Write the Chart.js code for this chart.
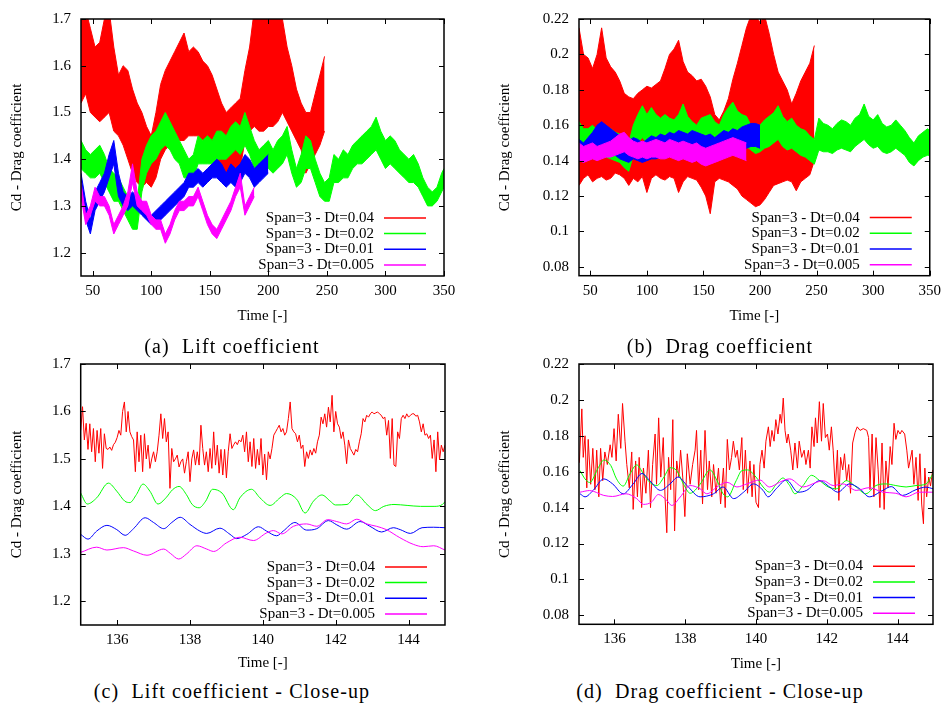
<!DOCTYPE html>
<html>
<head>
<meta charset="utf-8">
<script src="https://cdn.jsdelivr.net/npm/chart.js@4.4.1/dist/chart.umd.min.js"></script>
<style>
  body { margin: 0; background: #fff; width: 947px; height: 711px; position: relative; overflow: hidden; font-family: "Liberation Serif", "Times New Roman", serif; }
  canvas { position: absolute; }
  .cap { position: absolute; font-size: 20px; line-height: 20px; letter-spacing: 1.1px; white-space: nowrap; transform: translateX(-50%); color: #000; }
</style>
</head>
<body>
<canvas id="lift" width="470" height="330" style="left:0;top:0"></canvas>
<canvas id="drag" width="477" height="330" style="left:470px;top:0"></canvas>
<canvas id="liftZoom" width="470" height="330" style="left:0;top:345px"></canvas>
<canvas id="dragZoom" width="477" height="330" style="left:470px;top:345px"></canvas>
<div class="cap" style="left:232px;top:336px">(a)&nbsp; Lift coefficient</div>
<div class="cap" style="left:720px;top:336px">(b)&nbsp; Drag coefficient</div>
<div class="cap" style="left:232px;top:681px">(c)&nbsp; Lift coefficient - Close-up</div>
<div class="cap" style="left:720px;top:681px">(d)&nbsp; Drag coefficient - Close-up</div>
<script>
// labels
const legendLabels = ['Span=3 - Dt=0.04', 'Span=3 - Dt=0.02', 'Span=3 - Dt=0.01', 'Span=3 - Dt=0.005'];
const colors = ['#ff0000', '#00ff00', '#0000ff', '#ff00ff'];

// tick labels
const xTicksFull = [50, 100, 150, 200, 250, 300, 350];
const xTicksZoom = [136, 138, 140, 142, 144];
const yTicksLift = [1.2, 1.3, 1.4, 1.5, 1.6, 1.7];
const yTicksDrag = [0.08, 0.1, 0.12, 0.14, 0.16, 0.18, 0.2, 0.22];

// full run: time samples (envelopes of the fast oscillation)
const timeFull = [40, 44, 48, 52, 56, 60, 64, 68, 72, 76, 80, 84, 88, 92, 96, 100, 104, 108, 112, 116, 120, 124, 128, 132, 136, 140, 144, 148, 152, 156, 160, 164, 168, 172, 176, 180, 184, 188, 192, 196, 200, 204, 208, 212, 216, 220, 224, 228, 232, 236, 240, 244, 248, 252, 256, 260, 264, 268, 272, 276, 280, 284, 288, 292, 296, 300, 304, 308, 312, 316, 320, 324, 328, 332, 336, 340, 344, 348, 350];

// (a) lift, upper / lower envelopes
const liftRedHi = [1.72, 1.72, 1.68, 1.64, 1.65, 1.70, 1.72, 1.64, 1.58, 1.60, 1.59, 1.55, 1.52, 1.50, 1.47, 1.45, 1.50, 1.56, 1.59, 1.61, 1.63, 1.65, 1.67, 1.63, 1.64, 1.63, 1.61, 1.60, 1.58, 1.55, 1.52, 1.50, 1.51, 1.52, 1.53, 1.59, 1.64, 1.72, 1.72, 1.72, 1.72, 1.72, 1.72, 1.70, 1.64, 1.60, 1.55, 1.52, 1.50, 1.50, 1.54, 1.58, 1.62];
const liftRedLo = [1.52, 1.54, 1.50, 1.49, 1.48, 1.49, 1.50, 1.46, 1.45, 1.43, 1.40, 1.37, 1.35, 1.34, 1.35, 1.34, 1.36, 1.40, 1.42, 1.43, 1.44, 1.44, 1.44, 1.45, 1.45, 1.45, 1.44, 1.43, 1.42, 1.40, 1.38, 1.36, 1.35, 1.36, 1.38, 1.44, 1.46, 1.47, 1.46, 1.46, 1.47, 1.47, 1.48, 1.50, 1.48, 1.46, 1.44, 1.42, 1.37, 1.39, 1.41, 1.43, 1.46];
const liftGreenHi = [1.44, 1.42, 1.41, 1.42, 1.43, 1.41, 1.38, 1.37, 1.36, 1.34, 1.32, 1.30, 1.31, 1.40, 1.43, 1.45, 1.46, 1.48, 1.50, 1.48, 1.46, 1.44, 1.42, 1.40, 1.41, 1.45, 1.44, 1.45, 1.44, 1.46, 1.46, 1.45, 1.47, 1.48, 1.47, 1.50, 1.47, 1.44, 1.42, 1.43, 1.44, 1.42, 1.44, 1.45, 1.47, 1.42, 1.38, 1.41, 1.45, 1.44, 1.40, 1.37, 1.35, 1.36, 1.41, 1.40, 1.42, 1.41, 1.43, 1.44, 1.45, 1.46, 1.47, 1.49, 1.46, 1.44, 1.45, 1.44, 1.42, 1.41, 1.40, 1.41, 1.39, 1.36, 1.34, 1.33, 1.34, 1.37, 1.38];
const liftGreenLo = [1.38, 1.37, 1.36, 1.36, 1.37, 1.35, 1.33, 1.31, 1.31, 1.29, 1.27, 1.25, 1.25, 1.33, 1.37, 1.39, 1.40, 1.42, 1.43, 1.42, 1.40, 1.39, 1.36, 1.36, 1.36, 1.39, 1.39, 1.39, 1.39, 1.40, 1.40, 1.40, 1.41, 1.42, 1.41, 1.43, 1.41, 1.38, 1.37, 1.37, 1.38, 1.37, 1.38, 1.39, 1.41, 1.37, 1.34, 1.35, 1.38, 1.38, 1.35, 1.32, 1.31, 1.31, 1.35, 1.35, 1.36, 1.36, 1.38, 1.39, 1.39, 1.40, 1.41, 1.42, 1.40, 1.38, 1.39, 1.38, 1.37, 1.36, 1.35, 1.35, 1.34, 1.32, 1.30, 1.30, 1.31, 1.33, 1.34];
const liftBlueHi = [1.37, 1.31, 1.27, 1.33, 1.35, 1.37, 1.41, 1.44, 1.37, 1.33, 1.32, 1.33, 1.32, 1.31, 1.29, 1.28, 1.29, 1.30, 1.31, 1.32, 1.33, 1.34, 1.35, 1.37, 1.37, 1.38, 1.37, 1.38, 1.39, 1.40, 1.39, 1.37, 1.39, 1.38, 1.39, 1.41, 1.40, 1.38, 1.39, 1.40, 1.41];
const liftBlueLo = [1.33, 1.27, 1.24, 1.29, 1.31, 1.33, 1.36, 1.39, 1.32, 1.30, 1.29, 1.30, 1.29, 1.28, 1.27, 1.26, 1.27, 1.27, 1.28, 1.29, 1.30, 1.31, 1.32, 1.34, 1.34, 1.35, 1.34, 1.35, 1.36, 1.36, 1.35, 1.34, 1.35, 1.34, 1.35, 1.37, 1.36, 1.34, 1.35, 1.36, 1.37];
const liftPinkHi = [1.35, 1.28, 1.30, 1.34, 1.32, 1.32, 1.30, 1.26, 1.28, 1.30, 1.33, 1.39, 1.33, 1.31, 1.31, 1.28, 1.27, 1.27, 1.24, 1.26, 1.29, 1.31, 1.31, 1.32, 1.32, 1.34, 1.31, 1.28, 1.26, 1.25, 1.27, 1.29, 1.31, 1.34, 1.37, 1.30, 1.32, 1.34];
const liftPinkLo = [1.32, 1.26, 1.28, 1.31, 1.30, 1.30, 1.28, 1.24, 1.26, 1.28, 1.30, 1.35, 1.30, 1.29, 1.28, 1.26, 1.25, 1.25, 1.22, 1.24, 1.27, 1.29, 1.29, 1.30, 1.30, 1.32, 1.29, 1.26, 1.24, 1.23, 1.25, 1.27, 1.29, 1.32, 1.34, 1.28, 1.30, 1.32];

// (b) drag, upper / lower envelopes
const dragRedHi = [0.215, 0.200, 0.198, 0.192, 0.200, 0.215, 0.198, 0.193, 0.190, 0.185, 0.178, 0.176, 0.175, 0.178, 0.180, 0.182, 0.181, 0.183, 0.185, 0.192, 0.200, 0.203, 0.208, 0.196, 0.190, 0.188, 0.185, 0.186, 0.182, 0.176, 0.166, 0.163, 0.168, 0.175, 0.186, 0.195, 0.205, 0.215, 0.222, 0.222, 0.218, 0.222, 0.212, 0.200, 0.190, 0.185, 0.180, 0.172, 0.178, 0.185, 0.190, 0.195, 0.205];
const dragRedLo = [0.126, 0.130, 0.132, 0.128, 0.130, 0.131, 0.129, 0.130, 0.133, 0.132, 0.130, 0.126, 0.130, 0.128, 0.131, 0.122, 0.130, 0.132, 0.130, 0.129, 0.131, 0.130, 0.122, 0.128, 0.131, 0.130, 0.129, 0.125, 0.120, 0.110, 0.128, 0.130, 0.129, 0.128, 0.126, 0.124, 0.120, 0.118, 0.116, 0.114, 0.115, 0.118, 0.122, 0.126, 0.127, 0.128, 0.129, 0.128, 0.123, 0.128, 0.130, 0.132, 0.140];
const dragGreenHi = [0.162, 0.158, 0.158, 0.160, 0.157, 0.159, 0.157, 0.158, 0.156, 0.155, 0.152, 0.150, 0.160, 0.166, 0.171, 0.166, 0.170, 0.166, 0.164, 0.166, 0.164, 0.163, 0.166, 0.172, 0.165, 0.162, 0.160, 0.164, 0.165, 0.166, 0.162, 0.160, 0.166, 0.170, 0.173, 0.168, 0.166, 0.165, 0.160, 0.158, 0.160, 0.163, 0.165, 0.167, 0.171, 0.165, 0.162, 0.164, 0.160, 0.158, 0.157, 0.154, 0.152, 0.164, 0.161, 0.160, 0.158, 0.161, 0.163, 0.162, 0.160, 0.164, 0.166, 0.172, 0.165, 0.163, 0.166, 0.161, 0.159, 0.160, 0.163, 0.160, 0.157, 0.153, 0.150, 0.154, 0.156, 0.158, 0.157];
const dragGreenLo = [0.144, 0.142, 0.143, 0.144, 0.143, 0.144, 0.142, 0.141, 0.140, 0.139, 0.136, 0.134, 0.143, 0.150, 0.153, 0.150, 0.152, 0.149, 0.148, 0.150, 0.148, 0.147, 0.150, 0.152, 0.149, 0.147, 0.146, 0.148, 0.149, 0.150, 0.147, 0.146, 0.149, 0.152, 0.154, 0.151, 0.150, 0.148, 0.146, 0.144, 0.145, 0.147, 0.148, 0.150, 0.152, 0.148, 0.146, 0.147, 0.145, 0.143, 0.142, 0.140, 0.138, 0.146, 0.145, 0.145, 0.144, 0.146, 0.147, 0.146, 0.145, 0.148, 0.150, 0.152, 0.149, 0.147, 0.148, 0.145, 0.144, 0.145, 0.147, 0.145, 0.143, 0.139, 0.137, 0.140, 0.142, 0.143, 0.143];
const dragBlueHi = [0.152, 0.150, 0.153, 0.156, 0.160, 0.162, 0.160, 0.158, 0.156, 0.154, 0.152, 0.151, 0.153, 0.152, 0.150, 0.152, 0.154, 0.153, 0.155, 0.154, 0.156, 0.155, 0.157, 0.156, 0.155, 0.157, 0.156, 0.155, 0.154, 0.155, 0.153, 0.155, 0.157, 0.156, 0.158, 0.157, 0.159, 0.160, 0.161, 0.161, 0.160];
const dragBlueLo = [0.141, 0.139, 0.141, 0.143, 0.146, 0.147, 0.146, 0.144, 0.143, 0.141, 0.140, 0.139, 0.141, 0.140, 0.139, 0.140, 0.141, 0.141, 0.142, 0.142, 0.144, 0.143, 0.144, 0.143, 0.142, 0.144, 0.143, 0.141, 0.140, 0.141, 0.140, 0.142, 0.144, 0.144, 0.146, 0.145, 0.146, 0.147, 0.148, 0.148, 0.147];
const dragPinkHi = [0.150, 0.148, 0.149, 0.150, 0.148, 0.149, 0.150, 0.151, 0.153, 0.155, 0.156, 0.153, 0.151, 0.150, 0.151, 0.150, 0.151, 0.152, 0.151, 0.150, 0.152, 0.151, 0.150, 0.151, 0.150, 0.149, 0.150, 0.148, 0.147, 0.148, 0.149, 0.150, 0.151, 0.152, 0.153, 0.152, 0.151, 0.150];
const dragPinkLo = [0.140, 0.139, 0.140, 0.141, 0.140, 0.141, 0.142, 0.142, 0.143, 0.144, 0.145, 0.143, 0.142, 0.141, 0.142, 0.141, 0.142, 0.142, 0.141, 0.141, 0.142, 0.141, 0.140, 0.141, 0.140, 0.139, 0.140, 0.138, 0.137, 0.138, 0.139, 0.140, 0.141, 0.142, 0.143, 0.142, 0.141, 0.140];

// (c) lift close-up
const timeFine = [135, 135.05, 135.1, 135.15, 135.2, 135.25, 135.3, 135.35, 135.4, 135.45, 135.5, 135.55, 135.6, 135.65, 135.7, 135.75, 135.8, 135.85, 135.9, 135.95,
  136, 136.05, 136.1, 136.15, 136.2, 136.25, 136.3, 136.35, 136.4, 136.45, 136.5, 136.55, 136.6, 136.65, 136.7, 136.75, 136.8, 136.85, 136.9, 136.95,
  137, 137.05, 137.1, 137.15, 137.2, 137.25, 137.3, 137.35, 137.4, 137.45, 137.5, 137.55, 137.6, 137.65, 137.7, 137.75, 137.8, 137.85, 137.9, 137.95,
  138, 138.05, 138.1, 138.15, 138.2, 138.25, 138.3, 138.35, 138.4, 138.45, 138.5, 138.55, 138.6, 138.65, 138.7, 138.75, 138.8, 138.85, 138.9, 138.95,
  139, 139.05, 139.1, 139.15, 139.2, 139.25, 139.3, 139.35, 139.4, 139.45, 139.5, 139.55, 139.6, 139.65, 139.7, 139.75, 139.8, 139.85, 139.9, 139.95,
  140, 140.05, 140.1, 140.15, 140.2, 140.25, 140.3, 140.35, 140.4, 140.45, 140.5, 140.55, 140.6, 140.65, 140.7, 140.75, 140.8, 140.85, 140.9, 140.95,
  141, 141.05, 141.1, 141.15, 141.2, 141.25, 141.3, 141.35, 141.4, 141.45, 141.5, 141.55, 141.6, 141.65, 141.7, 141.75, 141.8, 141.85, 141.9, 141.95,
  142, 142.05, 142.1, 142.15, 142.2, 142.25, 142.3, 142.35, 142.4, 142.45, 142.5, 142.55, 142.6, 142.65, 142.7, 142.75, 142.8, 142.85, 142.9, 142.95,
  143, 143.05, 143.1, 143.15, 143.2, 143.25, 143.3, 143.35, 143.4, 143.45, 143.5, 143.55, 143.6, 143.65, 143.7, 143.75, 143.8, 143.85, 143.9, 143.95,
  144, 144.05, 144.1, 144.15, 144.2, 144.25, 144.3, 144.35, 144.4, 144.45, 144.5, 144.55, 144.6, 144.65, 144.7, 144.75, 144.8, 144.85, 144.9, 144.95, 145];
const zoomLiftRed = [1.56, 1.61, 1.54, 1.575, 1.52, 1.574, 1.515, 1.564, 1.494, 1.56, 1.512, 1.564, 1.48, 1.553, 1.522, 1.52, 1.525, 1.518, 1.53, 1.535,
  1.545, 1.56, 1.55, 1.60, 1.62, 1.557, 1.60, 1.557, 1.547, 1.54, 1.473, 1.557, 1.494, 1.55, 1.473, 1.553, 1.50, 1.529, 1.48, 1.50,
  1.515, 1.494, 1.515, 1.55, 1.595, 1.543, 1.585, 1.536, 1.557, 1.438, 1.522, 1.494, 1.50, 1.508, 1.483, 1.494, 1.50, 1.47, 1.494, 1.515,
  1.452, 1.50, 1.519, 1.487, 1.515, 1.487, 1.571, 1.522, 1.487, 1.515, 1.473, 1.522, 1.48, 1.557, 1.487, 1.529, 1.47, 1.52, 1.466, 1.52,
  1.46, 1.515, 1.553, 1.522, 1.53, 1.536, 1.53, 1.54, 1.536, 1.55, 1.515, 1.557, 1.494, 1.536, 1.484, 1.543, 1.48, 1.52, 1.487, 1.543,
  1.466, 1.51, 1.456, 1.515, 1.50, 1.522, 1.55, 1.557, 1.564, 1.571, 1.557, 1.564, 1.55, 1.557, 1.585, 1.62, 1.564, 1.557, 1.553, 1.536,
  1.55, 1.522, 1.529, 1.484, 1.515, 1.501, 1.519, 1.508, 1.522, 1.512, 1.536, 1.55, 1.588, 1.574, 1.595, 1.567, 1.609, 1.578, 1.634, 1.557,
  1.60, 1.574, 1.567, 1.543, 1.557, 1.529, 1.49, 1.54, 1.522, 1.515, 1.508, 1.52, 1.515, 1.536, 1.553, 1.585, 1.578, 1.592, 1.588, 1.595,
  1.599, 1.595, 1.597, 1.599, 1.595, 1.592, 1.585, 1.588, 1.55, 1.581, 1.501, 1.585, 1.487, 1.484, 1.557, 1.543, 1.585, 1.592, 1.585, 1.595,
  1.588, 1.592, 1.595, 1.595, 1.59, 1.592, 1.578, 1.557, 1.574, 1.55, 1.553, 1.543, 1.55, 1.501, 1.54, 1.473, 1.557, 1.498, 1.529, 1.515, 1.529];
const zoomLiftGreenT = [135, 135.18, 135.44, 135.76, 135.99, 136.21, 136.35, 136.53, 136.71, 136.9, 137.12, 137.34, 137.52, 137.7, 137.9, 138.06, 138.25, 138.43, 138.62, 138.88, 139.19, 139.37, 139.69, 139.92, 140.2, 140.47, 140.65, 140.93, 141.16, 141.39, 141.62, 141.85, 141.99, 142.31, 142.58, 142.86, 143.09, 143.32, 143.6, 143.96, 144.33, 144.7, 144.93, 145];
const zoomLiftGreen = [1.428, 1.405, 1.418, 1.449, 1.432, 1.411, 1.408, 1.425, 1.447, 1.432, 1.405, 1.418, 1.435, 1.442, 1.425, 1.404, 1.397, 1.411, 1.436, 1.428, 1.393, 1.418, 1.436, 1.418, 1.402, 1.418, 1.427, 1.415, 1.386, 1.411, 1.424, 1.411, 1.403, 1.404, 1.424, 1.404, 1.391, 1.400, 1.404, 1.402, 1.400, 1.400, 1.404, 1.410];
const zoomLiftBlueT = [135, 135.2, 135.44, 135.72, 135.99, 136.22, 136.45, 136.77, 137, 137.28, 137.5, 137.73, 138, 138.27, 138.46, 138.82, 139.1, 139.28, 139.56, 139.88, 140.1, 140.38, 140.56, 140.88, 141.2, 141.48, 141.8, 142.03, 142.3, 142.67, 142.94, 143.26, 143.58, 143.77, 144.05, 144.37, 144.69, 145];
const zoomLiftBlue = [1.341, 1.331, 1.348, 1.360, 1.351, 1.339, 1.353, 1.376, 1.366, 1.353, 1.366, 1.377, 1.362, 1.348, 1.343, 1.354, 1.341, 1.332, 1.341, 1.357, 1.348, 1.338, 1.348, 1.366, 1.350, 1.353, 1.370, 1.361, 1.352, 1.368, 1.358, 1.346, 1.355, 1.351, 1.343, 1.355, 1.356, 1.355];
const zoomLiftPinkT = [135, 135.44, 135.72, 136.17, 136.45, 136.82, 137.28, 137.46, 137.69, 137.91, 138.19, 138.46, 138.65, 139, 139.37, 139.74, 140.1, 140.29, 140.52, 140.84, 141.2, 141.48, 141.78, 142.03, 142.3, 142.58, 142.85, 143.12, 143.39, 143.76, 144.13, 144.4, 144.69, 145];
const zoomLiftPink = [1.303, 1.314, 1.308, 1.313, 1.306, 1.297, 1.310, 1.301, 1.289, 1.300, 1.317, 1.310, 1.305, 1.323, 1.335, 1.328, 1.344, 1.349, 1.342, 1.358, 1.363, 1.358, 1.372, 1.368, 1.363, 1.373, 1.363, 1.358, 1.351, 1.334, 1.320, 1.315, 1.317, 1.308];

// (d) drag close-up
const zoomDragRedT = [135.01, 135.08, 135.12, 135.17, 135.22, 135.26, 135.33, 135.39, 135.45, 135.5, 135.56, 135.61, 135.67, 135.73, 135.8, 135.88, 135.93, 135.99, 136.05, 136.11,
  136.18, 136.23, 136.3, 136.35, 136.42, 136.49, 136.53, 136.6, 136.65, 136.7, 136.77, 136.82, 136.89, 136.96, 137.02, 137.08, 137.15, 137.19, 137.25, 137.31,
  137.38, 137.43, 137.48, 137.53, 137.59, 137.65, 137.7, 137.76, 137.82, 137.87, 137.93, 137.99, 138.06, 138.14, 138.21, 138.28, 138.32, 138.38, 138.44, 138.49,
  138.56, 138.63, 138.68, 138.75, 138.8, 138.87, 138.94, 139, 139.08, 139.13, 139.19, 139.25, 139.31, 139.36, 139.42, 139.47, 139.53, 139.6, 139.64, 139.7,
  139.76, 139.83, 139.89, 139.94, 140, 140.07, 140.11, 140.17, 140.23, 140.28, 140.35, 140.4, 140.45, 140.51, 140.56, 140.62, 140.68, 140.72, 140.77, 140.82,
  140.87, 140.91, 140.98, 141.04, 141.1, 141.17, 141.22, 141.29, 141.36, 141.41, 141.48, 141.53, 141.58, 141.64, 141.68, 141.73, 141.79, 141.85, 141.9, 141.96,
  142.02, 142.07, 142.13, 142.18, 142.24, 142.3, 142.34, 142.39, 142.45, 142.5, 142.56, 142.62, 142.67, 142.73, 142.8, 142.86, 142.94, 143.03, 143.13, 143.18,
  143.22, 143.28, 143.33, 143.39, 143.45, 143.5, 143.56, 143.62, 143.67, 143.73, 143.79, 143.84, 143.9, 143.95, 144.01, 144.07, 144.12, 144.2, 144.26, 144.31,
  144.35, 144.41, 144.46, 144.52, 144.58, 144.63, 144.68, 144.73, 144.77, 144.82, 144.88, 144.93, 144.99];
const zoomDragRed = [0.165, 0.195, 0.168, 0.180, 0.151, 0.178, 0.153, 0.173, 0.150, 0.172, 0.146, 0.173, 0.155, 0.171, 0.164, 0.175, 0.168, 0.184, 0.166, 0.192,
  0.173, 0.198, 0.177, 0.164, 0.151, 0.171, 0.139, 0.166, 0.146, 0.168, 0.140, 0.162, 0.148, 0.172, 0.140, 0.164, 0.181, 0.153, 0.190, 0.157,
  0.179, 0.146, 0.126, 0.168, 0.150, 0.189, 0.127, 0.166, 0.157, 0.172, 0.157, 0.135, 0.170, 0.153, 0.164, 0.172, 0.183, 0.150, 0.172, 0.142,
  0.183, 0.150, 0.166, 0.146, 0.164, 0.148, 0.162, 0.142, 0.162, 0.140, 0.178, 0.161, 0.168, 0.177, 0.168, 0.172, 0.161, 0.179, 0.150, 0.172,
  0.148, 0.166, 0.146, 0.164, 0.143, 0.140, 0.164, 0.172, 0.162, 0.177, 0.185, 0.174, 0.183, 0.177, 0.189, 0.181, 0.192, 0.187, 0.201, 0.183,
  0.176, 0.181, 0.172, 0.161, 0.176, 0.162, 0.177, 0.168, 0.172, 0.164, 0.172, 0.162, 0.185, 0.174, 0.190, 0.176, 0.199, 0.177, 0.198, 0.179,
  0.181, 0.172, 0.185, 0.172, 0.150, 0.172, 0.144, 0.168, 0.161, 0.170, 0.155, 0.164, 0.148, 0.176, 0.182, 0.185, 0.183, 0.184, 0.183, 0.179,
  0.150, 0.181, 0.146, 0.179, 0.161, 0.140, 0.176, 0.139, 0.166, 0.151, 0.174, 0.164, 0.187, 0.178, 0.183, 0.181, 0.183, 0.181, 0.172, 0.162,
  0.166, 0.172, 0.153, 0.168, 0.144, 0.170, 0.142, 0.131, 0.162, 0.146, 0.157, 0.152, 0.161];
const zoomDragGreenT = [135.03, 135.17, 135.3, 135.55, 135.7, 135.9, 136.06, 136.25, 136.44, 136.63, 136.82, 137, 137.2, 137.4, 137.57, 137.76, 137.95, 138.14, 138.42, 138.7, 138.9, 139.07, 139.2, 139.44, 139.6, 139.76, 140, 140.2, 140.38, 140.57, 140.76, 140.95, 141.1, 141.33, 141.57, 141.8, 142.04, 142.27, 142.55, 142.83, 143.1, 143.39, 143.67, 143.95, 144.24, 144.52, 144.8, 145];
const zoomDragGreen = [0.1606, 0.156, 0.154, 0.1624, 0.1665, 0.1634, 0.156, 0.152, 0.1588, 0.1638, 0.1588, 0.1541, 0.1523, 0.157, 0.1622, 0.1606, 0.1532, 0.148, 0.153, 0.161, 0.155, 0.1477, 0.146, 0.155, 0.1606, 0.161, 0.157, 0.1515, 0.1486, 0.153, 0.1565, 0.1523, 0.1477, 0.1523, 0.158, 0.155, 0.1515, 0.1505, 0.155, 0.1515, 0.1477, 0.1523, 0.1532, 0.1523, 0.1515, 0.1523, 0.1532, 0.1588];
const zoomDragBlueT = [135.03, 135.17, 135.4, 135.7, 135.95, 136.25, 136.53, 136.78, 137, 137.3, 137.57, 137.8, 138.05, 138.42, 138.8, 139.07, 139.37, 139.65, 139.93, 140.2, 140.34, 140.57, 140.86, 141.19, 141.42, 141.8, 142.08, 142.31, 142.64, 142.93, 143.2, 143.58, 143.82, 144.14, 144.52, 144.8, 145];
const zoomDragBlue = [0.1477, 0.146, 0.1496, 0.156, 0.1532, 0.1477, 0.1532, 0.159, 0.155, 0.1496, 0.1532, 0.157, 0.1523, 0.146, 0.1477, 0.1515, 0.145, 0.1486, 0.1532, 0.1496, 0.146, 0.1505, 0.1554, 0.1486, 0.1495, 0.155, 0.1515, 0.1486, 0.1532, 0.1505, 0.146, 0.1496, 0.1517, 0.1468, 0.150, 0.1514, 0.1505];
const zoomDragPinkT = [135.03, 135.3, 135.7, 135.95, 136.33, 136.63, 136.82, 137.05, 137.24, 137.48, 137.62, 137.86, 138.14, 138.42, 138.61, 138.9, 139.18, 139.46, 139.74, 140.11, 140.38, 140.66, 140.95, 141.33, 141.71, 141.9, 142.18, 142.46, 142.83, 143.2, 143.58, 143.95, 144.24, 144.61, 145];
const zoomDragPink = [0.1486, 0.1495, 0.1468, 0.1462, 0.1477, 0.145, 0.1418, 0.1431, 0.1473, 0.144, 0.1412, 0.1459, 0.1523, 0.1505, 0.1477, 0.1515, 0.1541, 0.1515, 0.1532, 0.1554, 0.1515, 0.1541, 0.156, 0.1515, 0.1541, 0.155, 0.1523, 0.1532, 0.1496, 0.1511, 0.1486, 0.148, 0.146, 0.1486, 0.1486];

Chart.defaults.font.family = "'Liberation Serif', 'Times New Roman', serif";
Chart.defaults.font.size = 15;
Chart.defaults.color = '#000';

const pts = (t, v) => v.map((y, i) => ({ x: t[i], y }));

// filled band between the two envelopes, drawn in gnuplot order (red at the back)
function band(t, hi, lo, color, order) {
  return [
    { data: pts(t, hi), borderColor: color, borderWidth: 1, pointRadius: 0, fill: false, order },
    { data: pts(t, lo), borderColor: color, borderWidth: 1, pointRadius: 0, fill: '-1', backgroundColor: color, order },
  ];
}

function line(t, v, color, order, smooth) {
  return {
    data: pts(t, v), borderColor: color, borderWidth: 1, pointRadius: 0, fill: false, order,
    cubicInterpolationMode: smooth ? 'monotone' : 'default', tension: 0,
  };
}

// box, mirrored inward ticks and the gnuplot-style key
const frame = {
  id: 'frame',
  afterDatasetsDraw(chart) {
    const { ctx, chartArea: a, scales: { x, y } } = chart;
    ctx.save();
    ctx.strokeStyle = '#000';
    ctx.lineWidth = 1;
    ctx.beginPath();
    x.ticks.forEach(t => {
      const p = Math.round(x.getPixelForValue(t.value)) + 0.5;
      ctx.moveTo(p, a.bottom); ctx.lineTo(p, a.bottom - 5);
      ctx.moveTo(p, a.top); ctx.lineTo(p, a.top + 5);
    });
    y.ticks.forEach(t => {
      const p = Math.round(y.getPixelForValue(t.value)) + 0.5;
      ctx.moveTo(a.left, p); ctx.lineTo(a.left + 5, p);
      ctx.moveTo(a.right, p); ctx.lineTo(a.right - 5, p);
    });
    ctx.stroke();
    ctx.lineWidth = 1.5;
    ctx.strokeRect(a.left, a.top, a.right - a.left, a.bottom - a.top);

    ctx.font = '15px "Liberation Serif"';
    ctx.textAlign = 'right';
    ctx.textBaseline = 'middle';
    legendLabels.forEach((txt, i) => {
      const ly = a.bottom - 11 - 15.7 * (3 - i);
      ctx.fillStyle = '#000';
      ctx.fillText(txt, a.right - 70, ly);
      ctx.strokeStyle = colors[i];
      ctx.lineWidth = 1.5;
      ctx.beginPath();
      ctx.moveTo(a.right - 60, ly); ctx.lineTo(a.right - 18, ly);
      ctx.stroke();
    });
    ctx.restore();
  }
};

function makePanel(id, p) {
  new Chart(document.getElementById(id), {
    type: 'line',
    data: { datasets: p.datasets },
    options: {
      responsive: false,
      animation: false,
      devicePixelRatio: 1,
      events: [],
      layout: { padding: p.padding },
      plugins: { legend: { display: false }, tooltip: { enabled: false } },
      scales: {
        x: {
          type: 'linear', bounds: 'data', min: p.xMin, max: p.xMax,
          afterBuildTicks: s => { s.ticks = p.xTicks.map(v => ({ value: v })); },
          afterFit: s => { s.height = p.xHeight; },
          grid: { display: false, drawTicks: false },
          border: { display: false },
          ticks: { padding: 6, autoSkip: false, maxRotation: 0, callback: v => String(v) },
          title: { display: true, text: 'Time [-]', padding: { top: 0, bottom: p.xTitlePad } },
        },
        y: {
          type: 'linear', bounds: 'data', min: p.yMin, max: p.yMax,
          afterBuildTicks: s => { s.ticks = p.yTicks.map(v => ({ value: v })); },
          afterFit: s => { s.width = p.yWidth; },
          grid: { display: false, drawTicks: false },
          border: { display: false },
          ticks: { padding: 10, autoSkip: false, callback: v => String(v) },
          title: { display: true, text: 'Cd - Drag coefficient', padding: { top: p.yTitlePad, bottom: 0 } },
        },
      },
    },
    plugins: [frame],
  });
}

makePanel('lift', {
  padding: { top: 12.7, right: 26, left: 0, bottom: 0 },
  xMin: 40, xMax: 350, xTicks: xTicksFull, xHeight: 54, xTitlePad: 5,
  yMin: 1.15, yMax: 1.7, yTicks: yTicksLift, yWidth: 81, yTitlePad: 8.5,
  datasets: [
    ...band(timeFull, liftPinkHi, liftPinkLo, colors[3], 1),
    ...band(timeFull, liftBlueHi, liftBlueLo, colors[2], 2),
    ...band(timeFull, liftGreenHi, liftGreenLo, colors[1], 3),
    ...band(timeFull, liftRedHi, liftRedLo, colors[0], 4),
  ],
});

makePanel('drag', {
  padding: { top: 12.7, right: 14, left: 0, bottom: 0 },
  xMin: 40, xMax: 350, xTicks: xTicksFull, xHeight: 54.3, xTitlePad: 5,
  yMin: 0.075, yMax: 0.22, yTicks: yTicksDrag, yWidth: 109, yTitlePad: 26,
  datasets: [
    ...band(timeFull, dragPinkHi, dragPinkLo, colors[3], 1),
    ...band(timeFull, dragBlueHi, dragBlueLo, colors[2], 2),
    ...band(timeFull, dragGreenHi, dragGreenLo, colors[1], 3),
    ...band(timeFull, dragRedHi, dragRedLo, colors[0], 4),
  ],
});

makePanel('liftZoom', {
  padding: { top: 16.7, right: 25, left: 0, bottom: 0 },
  xMin: 135, xMax: 145, xTicks: xTicksZoom, xHeight: 50, xTitlePad: 3,
  yMin: 1.15, yMax: 1.7, yTicks: yTicksLift, yWidth: 80.7, yTitlePad: 8.5,
  datasets: [
    line(zoomLiftPinkT, zoomLiftPink, colors[3], 1, true),
    line(zoomLiftBlueT, zoomLiftBlue, colors[2], 2, true),
    line(zoomLiftGreenT, zoomLiftGreen, colors[1], 3, true),
    line(timeFine, zoomLiftRed, colors[0], 4, false),
  ],
});

makePanel('dragZoom', {
  padding: { top: 16.7, right: 14, left: 0, bottom: 0 },
  xMin: 135, xMax: 145, xTicks: xTicksZoom, xHeight: 50.7, xTitlePad: 2,
  yMin: 0.075, yMax: 0.22, yTicks: yTicksDrag, yWidth: 109, yTitlePad: 26,
  datasets: [
    line(zoomDragPinkT, zoomDragPink, colors[3], 1, true),
    line(zoomDragBlueT, zoomDragBlue, colors[2], 2, true),
    line(zoomDragGreenT, zoomDragGreen, colors[1], 3, true),
    line(zoomDragRedT, zoomDragRed, colors[0], 4, false),
  ],
});
</script>
</body>
</html>
